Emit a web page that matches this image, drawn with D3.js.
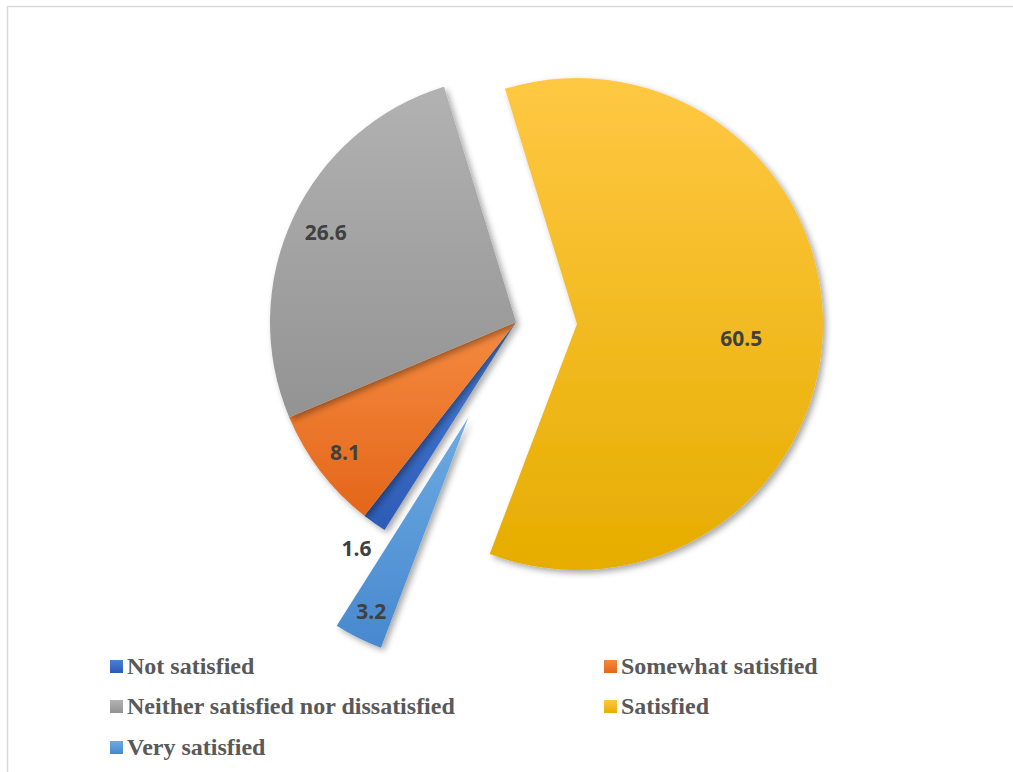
<!DOCTYPE html>
<html>
<head>
<meta charset="utf-8">
<script src="https://cdn.jsdelivr.net/npm/d3@7"></script>
<style>
	body { margin: 0; background: #fff; }
	svg { display: block; }
</style>
</head>
<body>
<div id="chart"></div>
<script>
// data
const categories = ["Not satisfied", "Somewhat satisfied", "Neither satisfied nor dissatisfied", "Satisfied", "Very satisfied"];
const values = [1.6, 8.1, 26.6, 60.5, 3.2];
const valueLabels = ["1.6", "8.1", "26.6", "60.5", "3.2"];
const legendOrder = ["Not satisfied", "Somewhat satisfied", "Neither satisfied nor dissatisfied", "Satisfied", "Very satisfied"];

// look
const colorTop = ["#4b7fd8", "#f58a3f", "#b2b2b2", "#ffc843", "#6cabe1"];
const colorBottom = ["#2c5bb5", "#e3661a", "#939393", "#e6ad00", "#4888cf"];
const explode = { "Satisfied": 61, "Very satisfied": 107 };
const labelRadius = { "Not satisfied": 277, "Somewhat satisfied": 215, "Neither satisfied nor dissatisfied": 210, "Satisfied": 165, "Very satisfied": 217 };
// small turn (degrees) of a label away from the slice's middle
const labelTurn = { "Satisfied": 3.3 };

const width = 1013;
const height = 772;
const cx = 516;
const cy = 322;
const radius = 246;
const startDeg = 212.3;

const svg = d3.select("#chart")
	.append("svg")
	.attr("width", width)
	.attr("height", height);

const defs = svg.append("defs");

const shadow = defs.append("filter")
	.attr("id", "shadow")
	.attr("x", "-20%").attr("y", "-20%")
	.attr("width", "140%").attr("height", "140%");
shadow.append("feDropShadow")
	.attr("dx", 3).attr("dy", 3)
	.attr("stdDeviation", 3)
	.attr("flood-color", "#000")
	.attr("flood-opacity", 0.35);

categories.forEach((c, i) => {
	const grad = defs.append("linearGradient")
		.attr("id", `grad${i}`)
		.attr("x1", 0).attr("y1", 0)
		.attr("x2", 0).attr("y2", 1);
	grad.append("stop").attr("offset", "0%").attr("stop-color", colorTop[i]);
	grad.append("stop").attr("offset", "100%").attr("stop-color", colorBottom[i]);
});

// frame
svg.append("rect")
	.attr("x", 7.5)
	.attr("y", 6.5)
	.attr("width", width + 10)
	.attr("height", height + 10)
	.attr("fill", "none")
	.attr("stroke", "#d9d9d9")
	.attr("stroke-width", 1.5);

const slices = categories.map((c, i) => ({ name: c, value: values[i], label: valueLabels[i], idx: i }));

const start = startDeg * Math.PI / 180;
const pie = d3.pie()
	.sort(null)
	.value(d => d.value)
	.startAngle(start)
	.endAngle(start + 2 * Math.PI);

const arc = d3.arc()
	.innerRadius(0)
	.outerRadius(radius);

const arcs = pie(slices);

function offset(d) {
	const mid = (d.startAngle + d.endAngle) / 2;
	const e = explode[d.data.name] || 0;
	return [Math.sin(mid) * e, -Math.cos(mid) * e];
}

const g = svg.append("g")
	.attr("transform", `translate(${cx},${cy})`);

g.selectAll("path")
	.data(arcs)
	.join("path")
	.attr("transform", d => `translate(${offset(d)})`)
	.attr("d", arc)
	.attr("fill", d => `url(#grad${d.data.idx})`)
	.attr("filter", "url(#shadow)");

g.selectAll("text")
	.data(arcs)
	.join("text")
	.attr("transform", d => {
		const mid = (d.startAngle + d.endAngle) / 2 + (labelTurn[d.data.name] || 0) * Math.PI / 180;
		const [ox, oy] = offset(d);
		const r = labelRadius[d.data.name];
		return `translate(${ox + Math.sin(mid) * r},${oy - Math.cos(mid) * r})`;
	})
	.attr("text-anchor", "middle")
	.attr("dy", "0.36em")
	.attr("font-family", "'Open Sans', sans-serif")
	.attr("font-weight", "bold")
	.attr("font-size", 21)
	.attr("fill", "#404040")
	.text(d => d.data.label);

// legend, two columns
const legendX = [110, 604];
const legendY = [674, 714, 755];
const legend = svg.append("g")
	.selectAll("g")
	.data(legendOrder)
	.join("g")
	.attr("transform", (d, i) => `translate(${legendX[i % 2]},${legendY[Math.floor(i / 2)]})`);

legend.append("rect")
	.attr("x", 0)
	.attr("y", -14)
	.attr("width", 13)
	.attr("height", 13)
	.attr("fill", d => `url(#grad${categories.indexOf(d)})`);

legend.append("text")
	.attr("x", 17)
	.attr("font-family", "'Liberation Serif', 'Times New Roman', serif")
	.attr("font-weight", "bold")
	.attr("font-size", 24)
	.attr("fill", "#595959")
	.text(d => d);
</script>
</body>
</html>
